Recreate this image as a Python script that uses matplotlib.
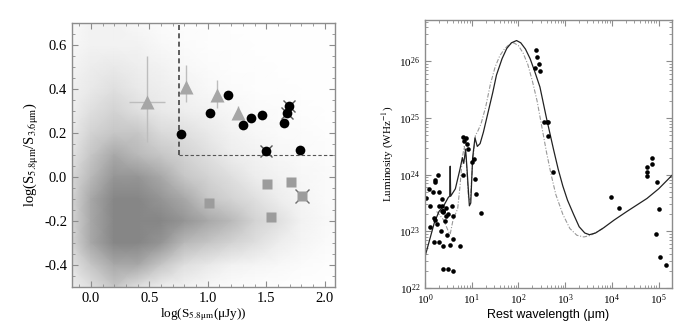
import numpy as np
import matplotlib
matplotlib.use('Agg')
import matplotlib.pyplot as plt

plt.rcParams['font.family'] = 'Liberation Serif'
plt.rcParams['mathtext.fontset'] = 'stix'

# ---- left panel: colour-flux diagram ----
# background field galaxies, read as a rough density grid (0 = empty .. 5 = densest)
grid_x = [-0.2, 0.0, 0.2, 0.4, 0.6, 0.8, 1.0, 1.2, 1.4, 1.6, 1.8, 2.0, 2.2]
grid_y = [0.7, 0.6, 0.5, 0.4, 0.3, 0.2, 0.1, 0.0, -0.1, -0.2, -0.3, -0.4, -0.5]
density = [
    [0.3, 1, 1, 0.5, 0.3, 0.2, 0.2, 0.1, 0.1, 0.1, 0.1, 0.1, 0.1],
    [0.5, 1, 1, 1, 0.5, 0.3, 0.2, 0.2, 0.1, 0.1, 0.1, 0.1, 0.1],
    [0.8, 1.3, 1.5, 1.2, 1, 0.5, 0.3, 0.2, 0.2, 0.1, 0.1, 0.1, 0.1],
    [1, 1.5, 2, 1.5, 1.2, 1, 0.5, 0.3, 0.2, 0.2, 0.1, 0.1, 0.1],
    [1, 2, 2.5, 2, 1.5, 1.2, 1, 0.6, 0.4, 0.3, 0.2, 0.1, 0.1],
    [1.2, 2.5, 3, 3, 2.2, 2, 1.5, 1, 0.6, 0.4, 0.3, 0.2, 0.1],
    [1.5, 3, 4, 3.5, 3, 2.5, 2, 1.3, 1, 0.6, 0.4, 0.3, 0.2],
    [2, 3.5, 4.5, 4.5, 4, 3, 2.5, 2, 1.3, 1, 0.6, 0.4, 0.2],
    [2, 4, 5, 5, 4.5, 4, 3, 2.5, 2, 1.3, 0.8, 0.4, 0.2],
    [2, 4, 5, 5, 5, 4.5, 4, 3.5, 2.5, 2, 1, 0.5, 0.3],
    [2, 4, 5, 5, 4.5, 3.5, 3, 2.5, 2, 1.3, 0.8, 0.4, 0.2],
    [1.5, 3, 4, 4, 3, 2, 1.5, 1, 0.8, 0.5, 0.3, 0.2, 0.1],
    [1, 2, 3, 2, 1.2, 1, 0.5, 0.3, 0.2, 0.2, 0.1, 0.1, 0.1],
]

circ_x = [0.774, 1.022, 1.177, 1.302, 1.366, 1.468, 1.502, 1.654, 1.674, 1.697, 1.788]
circ_y = [0.196, 0.291, 0.373, 0.237, 0.269, 0.282, 0.121, 0.246, 0.290, 0.322, 0.124]
circ_crossed = [False, False, False, False, False, False, True, False, True, True, False]

tri_x = [0.48, 0.817, 1.08, 1.257]
tri_y = [0.344, 0.412, 0.373, 0.294]
tri_err_lo = [0.184, 0.07, 0.06, 0.03]
tri_err_hi = [0.206, 0.10, 0.07, 0.03]
tri_xerr = [0.15, 0.0, 0.0, 0.0]

sq_x = [1.014, 1.508, 1.545, 1.71, 1.808]
sq_y = [-0.116, -0.033, -0.181, -0.023, -0.088]
sq_crossed = [False, False, False, False, True]

# ---- right panel: SED ----
sed_wl = [1.05, 1.23, 1.51, 1.62, 1.66, 1.91, 1.95, 2.29, 2.35, 2.49, 2.29, 2.72,
          1.29, 1.55, 2.82, 2.04, 2.40, 2.46, 2.82, 3.16, 3.72, 4.07,
          1.62, 1.82, 1.29, 2.24, 3.02, 4.07, 1.55, 1.95, 2.46, 3.47, 5.49,
          2.46, 3.09, 3.89,
          6.61, 7.41, 6.92, 7.76, 8.32, 6.61, 10.0, 11.0, 11.5, 12.3, 16.2,
          240, 245, 282, 231, 290, 355, 405, 433, 433, 562,
          9500, 14100, 57500, 70800, 70800, 57500, 57500, 91200, 100000, 87100, 105000, 141000]
sed_lum = [3.9e23, 5.5e23, 5.0e23, 8.1e23, 7.4e23, 1.0e24, 4.9e23, 3.7e23, 2.3e23, 2.3e23,
           2.8e23, 1.5e23,
           2.8e23, 1.7e23, 1.9e23, 2.8e23, 2.3e23, 2.2e23, 2.6e23, 2.0e23, 2.8e23, 1.9e23,
           1.6e23, 1.35e23, 1.2e23, 1.0e23, 8.7e22, 7.2e22, 6.5e22, 6.5e22, 5.5e22,
           5.8e22, 5.6e22,
           2.2e22, 2.2e22, 2.0e22,
           4.6e24, 4.4e24, 3.9e24, 3.5e24, 2.8e24, 1.0e24, 1.7e24, 1.9e24, 8.3e23, 4.6e23, 2.1e23,
           1.6e26, 1.2e26, 9.1e25, 7.7e25, 6.7e25, 8.5e24, 8.5e24, 8.7e24, 4.9e24, 1.1e24,
           4.1e23, 2.6e23, 1.35e24, 2.0e24, 1.55e24, 1.1e24, 9.3e23, 7.4e23, 2.5e23, 8.9e22,
           3.5e22, 2.5e22]

# model fits (log wavelength, log luminosity)
fit1_logwl = [0.0, 0.1, 0.2, 0.3, 0.4, 0.5, 0.53, 0.54, 0.55, 0.65, 0.75, 0.8, 0.83, 0.87,
              0.9, 0.95, 0.98, 1.02, 1.07, 1.12, 1.18, 1.25, 1.35, 1.45, 1.53, 1.65, 1.75,
              1.85, 1.96, 2.05, 2.15, 2.25, 2.35, 2.46, 2.6, 2.75, 2.85, 2.95, 3.05, 3.18,
              3.3, 3.42, 3.52, 3.65, 3.82, 4.05, 4.32, 4.75, 5.0, 5.3]
fit1_loglum = [22.55, 22.85, 23.15, 23.35, 23.45, 23.6, 23.62, 24.15, 23.62, 23.75, 24.1,
               24.3, 24.2, 24.45, 24.1, 23.45, 23.5, 24.3, 24.65, 24.5, 24.55, 24.75, 25.1,
               25.45, 25.76, 26.05, 26.23, 26.33, 26.37, 26.33, 26.22, 26.05, 25.82, 25.55,
               25.0, 24.45, 24.1, 23.8, 23.55, 23.3, 23.08, 22.97, 22.94, 22.97, 23.06,
               23.2, 23.35, 23.58, 23.75, 24.0]
fit2_logwl = [0.25, 0.4, 0.5, 0.54, 0.6, 0.7, 0.75, 0.8, 0.84, 0.88, 0.93, 0.97, 1.02, 1.08,
              1.12, 1.2, 1.3, 1.4, 1.5, 1.6, 1.7, 1.8, 1.9, 2.0, 2.1, 2.2, 2.3, 2.4, 2.5,
              2.6, 2.7, 2.8, 2.95, 3.1, 3.25, 3.4, 3.55, 3.7, 3.85]
fit2_loglum = [23.35, 23.2, 23.0, 22.95, 23.2, 23.4, 23.8, 24.3, 24.5, 24.3, 23.6, 23.55,
               24.2, 24.7, 24.75, 24.9, 25.2, 25.6, 25.9, 26.1, 26.22, 26.3, 26.33, 26.28,
               26.15, 25.95, 25.65, 25.3, 24.85, 24.4, 24.0, 23.65, 23.3, 23.05, 22.93,
               22.9, 22.93, 23.0, 23.07]

fig = plt.figure(figsize=(6.91, 3.34), dpi=100)
frame_col = '#8c8c8c'

ax1 = fig.add_axes([0.104, 0.141, 0.381, 0.790])
gx, gy = np.meshgrid(grid_x, grid_y)
ax1.pcolormesh(gx, gy, np.array(density, dtype=float), shading='gouraud', cmap='Greys',
               vmin=0, vmax=9, zorder=1)

ax1.plot([0.75, 0.75], [0.1, 0.7], color='#444444', lw=1.2, dashes=(3, 2), zorder=2)
ax1.plot([0.75, 2.2], [0.1, 0.1], color='#555555', lw=0.8, dashes=(3, 2), zorder=2)

ax1.errorbar(tri_x, tri_y, yerr=[tri_err_lo, tri_err_hi], xerr=tri_xerr, fmt='none',
             ecolor='#bdbdbd', elinewidth=1.0, capsize=0, zorder=3)
ax1.plot(tri_x, tri_y, '^', color='#a6a6a6', ms=10, mec='none', zorder=4)
for x, y, c in zip(sq_x, sq_y, sq_crossed):
    if c:
        ax1.plot(x, y, 'x', color='#6e6e6e', ms=10, mew=1.0, zorder=4)
ax1.plot(sq_x, sq_y, 's', color='#9c9c9c', ms=6.5, mec='none', zorder=5)
for x, y, c in zip(circ_x, circ_y, circ_crossed):
    if c:
        ax1.plot(x, y, 'x', color='#555555', ms=9, mew=1.0, zorder=4)
ax1.plot(circ_x, circ_y, 'o', color='black', ms=7, mec='none', zorder=5)

ax1.set_xlim(-0.163, 2.09)
ax1.set_ylim(-0.494, 0.702)
ax1.set_xticks([0.0, 0.5, 1.0, 1.5, 2.0])
ax1.set_xticks(np.arange(-0.1, 2.1, 0.1), minor=True)
ax1.set_yticks([-0.4, -0.2, 0.0, 0.2, 0.4, 0.6])
ax1.set_yticks(np.arange(-0.5, 0.71, 0.05), minor=True)
ax1.set_xticklabels(['0.0', '0.5', '1.0', '1.5', '2.0'])
ax1.set_yticklabels(['-0.4', '-0.2', '0.0', '0.2', '0.4', '0.6'])
ax1.set_xlabel(r'log(S$_{5.8\mathrm{μm}}$(μJy))', fontsize=9.5, labelpad=1)
ax1.set_ylabel(r'log(S$_{5.8\mathrm{μm}}$/S$_{3.6\mathrm{μm}}$)', fontsize=10.5, labelpad=2)

ax2 = fig.add_axes([0.615, 0.138, 0.357, 0.802])
ax2.plot(10 ** np.array(fit2_logwl), 10 ** np.array(fit2_loglum), color='#999999', lw=0.8,
         ls=(0, (4, 1.5, 1, 1.5)))
ax2.plot(10 ** np.array(fit1_logwl), 10 ** np.array(fit1_loglum), color='#222222', lw=0.9)
ax2.plot(sed_wl, sed_lum, 'o', color='black', ms=3.3, mec='none')
ax2.set_xscale('log')
ax2.set_yscale('log')
ax2.set_xlim(1, 1.9e5)
ax2.set_ylim(1e22, 5.4e26)
ax2.set_xlabel('Rest wavelength (μm)', fontsize=9, family='Liberation Sans', labelpad=1)
ax2.set_ylabel(r'Luminosity (WHz$^{-1}$)', fontsize=8, labelpad=2)

for ax in (ax1, ax2):
    for s in ax.spines.values():
        s.set_color(frame_col)
        s.set_linewidth(1.0)
        s.set_zorder(6)
    ax.tick_params(which='both', direction='in', top=True, right=True, color=frame_col)
    ax.tick_params(which='major', length=4, width=0.8, labelsize=10.5)
    ax.tick_params(which='minor', length=2, width=0.6)
ax2.tick_params(which='major', labelsize=8)

fig.savefig('out.png', dpi=100)
